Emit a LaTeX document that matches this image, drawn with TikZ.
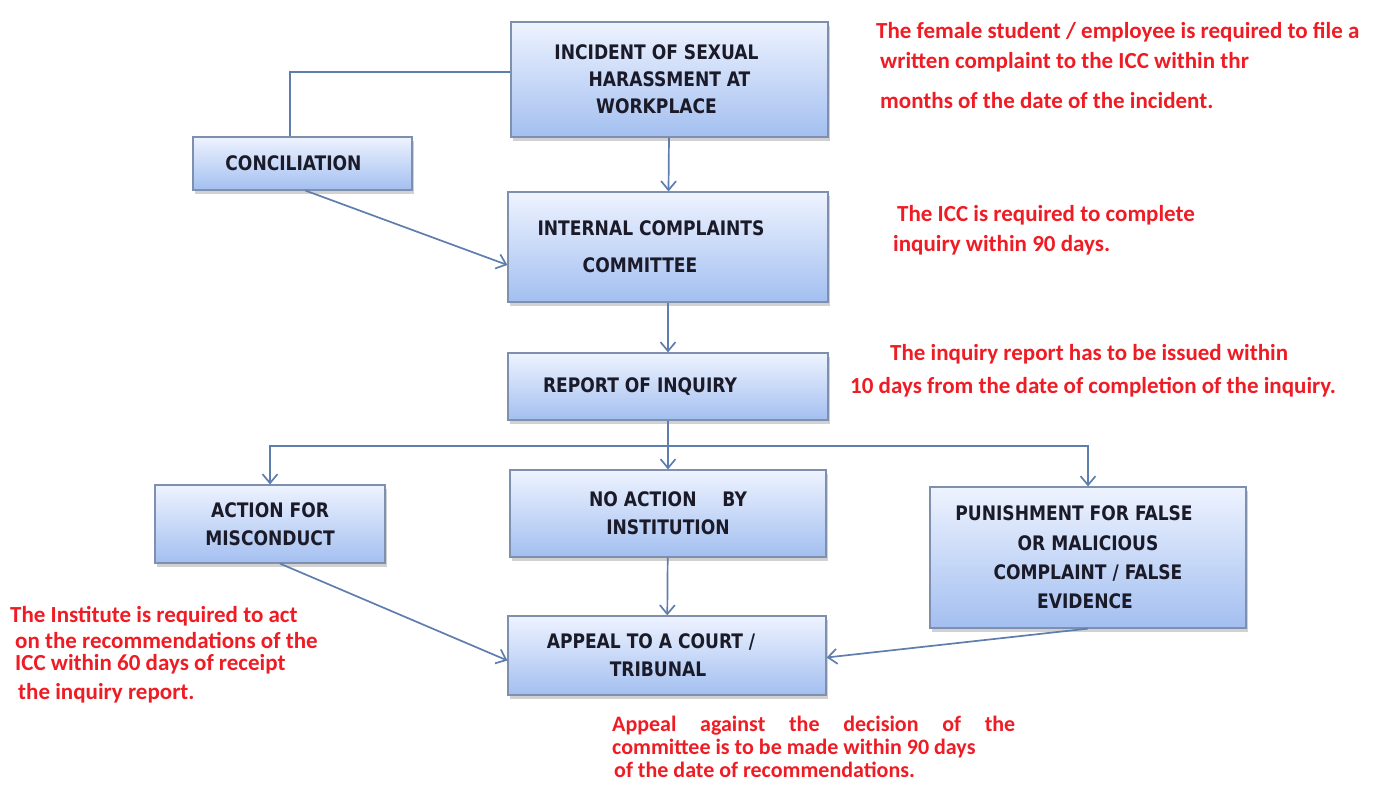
\documentclass[tikz,border=0pt]{standalone}
\usepackage{fontspec}
\setmainfont{Carlito}
\newfontfamily\boxfont{DejaVuSansCondensed-Bold.ttf}[FakeStretch=0.95]
\usetikzlibrary{arrows.meta, positioning, shadows, calc}
\definecolor{boxtop}{HTML}{EEF3FF}
\definecolor{boxbot}{HTML}{A3BFF0}
\definecolor{boxline}{HTML}{7E90AE}
\definecolor{flow}{HTML}{5E7EAE}
\definecolor{note}{HTML}{EE1C24}
\definecolor{ink}{HTML}{1A1A28}

\begin{document}
\begin{tikzpicture}[x=1pt, y=-1pt,
  stage/.style={rectangle, draw=boxline, line width=1.2pt, top color=boxtop, bottom color=boxbot,
    drop shadow={shadow xshift=2pt, shadow yshift=-4pt, opacity=0.3, fill=black!60},
    text=ink, font=\boxfont\fontsize{20}{22}\selectfont, align=center, inner sep=0pt},
  remark/.style={anchor=north west, inner sep=0pt, align=left, text=note,
    font=\bfseries\fontsize{23}{25}\selectfont},
  flowline/.style={draw=flow, line width=1.7pt},
  tip/.style={-{Straight Barb[length=9pt, width=15pt]}}]
\useasboundingbox (0,0) rectangle (1373,789);

\node (INC) [stage, minimum width=317pt, minimum height=115pt] at (669.5,79.5)
  {INCIDENT OF SEXUAL\hspace*{26pt}\\[5pt]HARASSMENT AT\hspace*{26pt}\\[5pt]WORKPLACE\hspace*{26pt}};
\node (CON) [stage, minimum width=219pt, minimum height=53pt] at (302.5,163.5) {CONCILIATION\hspace*{18pt}};
\node (ICC) [stage, minimum width=320pt, minimum height=110pt] at (668,247)
  {INTERNAL COMPLAINTS\hspace*{34pt}\\[15pt]COMMITTEE\hspace*{56pt}};
\node (REP) [stage, minimum width=320pt, minimum height=67pt] at (668,386.5) {REPORT OF INQUIRY\hspace*{56pt}};
\node (ACT) [stage, minimum width=230pt, minimum height=78pt] at (270,524) {ACTION FOR\\[6pt]MISCONDUCT};
\node (NOA) [stage, minimum width=316pt, minimum height=87pt] at (668,513.5) {NO ACTION\quad\ BY\\[6pt]INSTITUTION};
\node (PUN) [stage, minimum width=316pt, minimum height=141pt] at (1088,557.5)
  {PUNISHMENT FOR FALSE\hspace*{28pt}\\[8pt]OR\ MALICIOUS\hspace*{16pt}\\[7pt]COMPLAINT / FALSE\hspace*{20pt}\\[7pt]EVIDENCE\hspace*{6pt}};
\node (APP) [stage, minimum width=318pt, minimum height=79pt] at (667,655.5)
  {APPEAL TO A COURT /\hspace*{32pt}\\[6pt]TRIBUNAL\hspace*{18pt}};

%Notes:
\node (N1) [remark] at (876,22) {The female student / employee is required to file a\\[5pt]
  \hspace*{4pt}written complaint to the ICC within thr\\[15pt]\hspace*{4pt}months of the date of the incident.};
\node (N2) [remark] at (893,205) {\hspace*{4pt}The ICC is required to complete\\[5pt]inquiry within 90 days.};
\node (N3) [remark] at (850,344) {\hspace*{40pt}The inquiry report has to be issued within\\[8pt]10 days from the date of completion of the inquiry.};
\node (N4) [remark] at (10,606) {The Institute is required to act\\[1pt]\hspace*{5pt}on the recommendations of the\\[-3pt]
  \hspace*{5pt}ICC within 60 days of receipt\\[4pt]\hspace*{8pt}the inquiry report.};
\node (N5) [remark, font=\bfseries\fontsize{22}{23}\selectfont] at (612,716)
  {\makebox[403pt][s]{Appeal against the decision of the}\\
  committee is to be made within 90 days\\\hspace*{2pt}of the date of recommendations.};

\coordinate (bend) at (290,72);
\coordinate (split) at (668,446);

%Flow:
\draw [flowline] (INC.west |- bend) -| (CON.north -| bend);
\draw [flowline] (REP.south) -- (split);
\draw [flowline, tip] (split) -| (ACT.north);
\draw [flowline, tip] (split) -| (PUN.north);
\path [flowline, every edge/.append style=tip]
(INC) edge (ICC)
(ICC) edge (REP)
(split) edge (NOA.north)
(NOA) edge (APP)
($(CON.south)+(3,0)$) edge ($(ICC.west)+(0,18)$)
($(ACT.south)+(10,0)$) edge ($(APP.west)+(0,5)$)
(PUN.south) edge ($(APP.east)+(0,2)$)
;

\end{tikzpicture}
\end{document}
